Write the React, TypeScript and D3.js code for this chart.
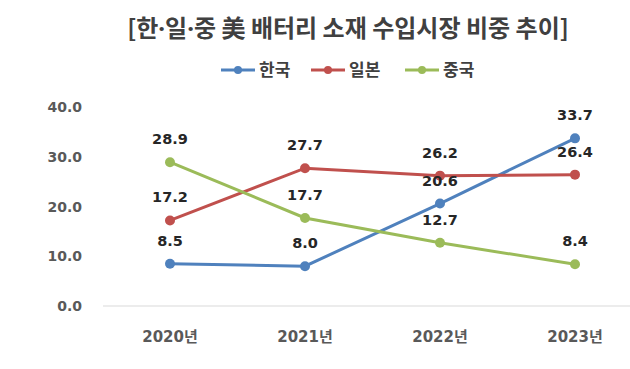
import React from "react";
import * as d3 from "d3";

const years = ["2020년", "2021년", "2022년", "2023년"];
const seriesNames = ["한국", "일본", "중국"];
const korea = [8.5, 8.0, 20.6, 33.7];
const japan = [17.2, 27.7, 26.2, 26.4];
const china = [28.9, 17.7, 12.7, 8.4];
const yTicks = [0, 10, 20, 30, 40];
const colors = ["#4f81bd", "#c0504d", "#9bbb59"];

const W = 630;
const H = 369;
const font = "'Noto Sans CJK KR', 'Noto Sans', sans-serif";
const numFont = "'DejaVu Sans', 'Noto Sans CJK KR', sans-serif";

export default function App() {
  const x = d3.scaleBand().domain(years).range([102.5, 642.5]);
  const y = d3.scaleLinear().domain([0, 40]).range([306, 107]);
  const cx = (i: number) => (x(years[i]) as number) + x.bandwidth() / 2;
  const line = d3
    .line<number>()
    .x((_, i) => cx(i))
    .y((d) => y(d));

  const allSeries = [korea, japan, china];
  const legendX = [221, 311, 405];

  return (
    <svg
      width={W}
      height={H}
      style={{ position: "absolute", left: 0, top: 0, background: "#fff" }}
      fontFamily={font}
    >
      <rect width={W} height={H} fill="#fff" />
      <text
        x={348}
        y={30}
        textAnchor="middle"
        dominantBaseline="middle"
        fontSize={24}
        fontWeight="bold"
        fill="#404040"
      >
        [한<tspan fontFamily="'Noto Sans', sans-serif">·</tspan>일
        <tspan fontFamily="'Noto Sans', sans-serif">·</tspan>중 美 배터리 소재 수입시장 비중 추이]
      </text>

      {/* legend */}
      {seriesNames.map((name, i) => (
        <g key={name} transform={`translate(${legendX[i]}, 70)`}>
          <line x1={0} x2={34} y1={0} y2={0} stroke={colors[i]} strokeWidth={3} />
          <circle cx={17} cy={0} r={4} fill={colors[i]} />
          <text
            x={38}
            y={1}
            dominantBaseline="middle"
            fontSize={17}
            fontWeight="bold"
            fill="#404040"
          >
            {name}
          </text>
        </g>
      ))}

      {/* y axis labels */}
      {yTicks.map((t) => (
        <text
          key={t}
          x={82}
          y={y(t) + 1}
          textAnchor="end"
          dominantBaseline="middle"
          fontSize={14}
          fontWeight="bold"
          fontFamily={numFont}
          fill="#595959"
        >
          {t.toFixed(1)}
        </text>
      ))}

      <line x1={103} x2={W} y1={y(0)} y2={y(0)} stroke="#d9d9d9" strokeWidth={1} />

      {/* x axis labels */}
      {years.map((yr, i) => (
        <text
          key={yr}
          x={cx(i)}
          y={337}
          textAnchor="middle"
          dominantBaseline="middle"
          fontSize={15}
          fontWeight="bold"
          fontFamily={numFont}
          fill="#595959"
        >
          {yr}
        </text>
      ))}

      {allSeries.map((s, si) => (
        <g key={si}>
          <path d={line(s) || ""} fill="none" stroke={colors[si]} strokeWidth={3} />
          {s.map((v, i) => (
            <circle key={i} cx={cx(i)} cy={y(v)} r={5} fill={colors[si]} />
          ))}
        </g>
      ))}

      {allSeries.map((s, si) =>
        s.map((v, i) => (
          <text
            key={`${si}-${i}`}
            x={cx(i)}
            y={y(v) - 22}
            textAnchor="middle"
            dominantBaseline="middle"
            fontSize={14.5}
            fontWeight="bold"
            fontFamily={numFont}
            fill="#262626"
          >
            {v.toFixed(1)}
          </text>
        ))
      )}
    </svg>
  );
}
